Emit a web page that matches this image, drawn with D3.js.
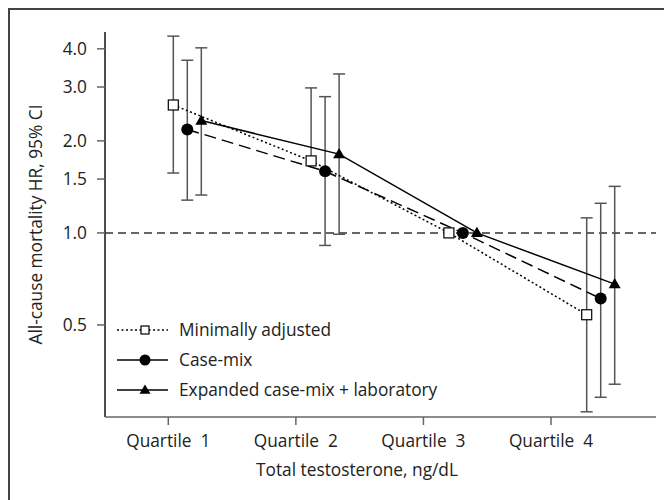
<!DOCTYPE html>
<html>
<head>
<meta charset="utf-8">
<script src="https://cdn.jsdelivr.net/npm/d3@7"></script>
<style>
  body { margin: 0; background: #fff; }
  svg { display: block; font-family: "Open Sans", "Noto Sans", sans-serif; }
</style>
</head>
<body>
<div id="chart"></div>
<script>
const categories = ["Quartile  1", "Quartile  2", "Quartile  3", "Quartile  4"]
const seriesNames = ["Minimally adjusted", "Case-mix", "Expanded case-mix + laboratory"]
const yTicks = [0.5, 1.0, 1.5, 2.0, 3.0, 4.0]

// hazard ratios with 95% CI (quartile 3 is the reference)
const minimalHR = [2.62, 1.72, 1.0, 0.54]
const minimalLo = [1.57, null, null, 0.26]
const minimalHi = [4.40, 2.98, null, 1.12]
const caseMixHR = [2.18, 1.59, 1.0, 0.61]
const caseMixLo = [1.28, 0.91, null, 0.29]
const caseMixHi = [3.67, 2.79, null, 1.25]
const expandedHR = [2.33, 1.81, 1.0, 0.68]
const expandedLo = [1.33, 0.99, null, 0.32]
const expandedHi = [4.03, 3.31, null, 1.42]

const series = [
    { name: seriesNames[0], hr: minimalHR, lo: minimalLo, hi: minimalHi, shape: "square", dash: "2,2.5" },
    { name: seriesNames[1], hr: caseMixHR, lo: caseMixLo, hi: caseMixHi, shape: "circle", dash: "12,6" },
    { name: seriesNames[2], hr: expandedHR, lo: expandedLo, hi: expandedHi, shape: "triangle", dash: null }
]

const svgWidth = 664, svgHeight = 500
const plotLeft = 105, plotRight = 656, plotTop = 32, plotBottom = 417
const fontSize = 17.3

const svg = d3.select("#chart").append("svg")
    .attr("width", svgWidth)
    .attr("height", svgHeight)

// outer frame (left and top edges only)
svg.append("path")
    .attr("d", "M9," + svgHeight + "V9H" + svgWidth)
    .attr("fill", "none")
    .attr("stroke", "#444")
    .attr("stroke-width", 2)

// scales
const y = d3.scaleLog().domain([0.25, 4.54]).range([plotBottom, plotTop])
const xTick = d3.scalePoint().domain(categories).range([168.3, 551])
const xGroup = d3.scaleLinear().domain([0, 3]).range([173.3, 586.7])
const xDodge = d3.scalePoint().domain(seriesNames).range([0, 28])
const px = (s, i) => xGroup(i) + xDodge(s.name)

// axes
svg.append("line")
    .attr("x1", plotLeft).attr("x2", plotLeft).attr("y1", plotTop).attr("y2", plotBottom)
    .attr("stroke", "#111").attr("stroke-width", 1.5)
svg.append("line")
    .attr("x1", plotLeft).attr("x2", plotRight).attr("y1", plotBottom).attr("y2", plotBottom)
    .attr("stroke", "#666").attr("stroke-width", 1.5)

const yAxis = svg.append("g")
yAxis.selectAll("line").data(yTicks).enter().append("line")
    .attr("x1", plotLeft - 8).attr("x2", plotLeft)
    .attr("y1", d => y(d)).attr("y2", d => y(d))
    .attr("stroke", "#666").attr("stroke-width", 1.5)
yAxis.selectAll("text").data(yTicks).enter().append("text")
    .attr("x", plotLeft - 18)
    .attr("y", d => y(d))
    .attr("dy", "0.35em")
    .attr("text-anchor", "end")
    .attr("font-size", fontSize)
    .attr("fill", "#222")
    .text(d => d3.format(".1f")(d))

const xAxis = svg.append("g")
xAxis.selectAll("line").data(categories).enter().append("line")
    .attr("x1", d => xTick(d)).attr("x2", d => xTick(d))
    .attr("y1", plotBottom).attr("y2", plotBottom + 8)
    .attr("stroke", "#666").attr("stroke-width", 1.5)
xAxis.selectAll("text").data(categories).enter().append("text")
    .attr("x", d => xTick(d))
    .attr("y", 447)
    .attr("text-anchor", "middle")
    .attr("font-size", fontSize)
    .attr("fill", "#222")
    .style("white-space", "pre")
    .text(d => d)

// axis titles
svg.append("text")
    .attr("transform", "translate(42," + (plotTop + plotBottom) / 2 + ") rotate(-90)")
    .attr("text-anchor", "middle")
    .attr("font-size", fontSize)
    .attr("fill", "#222")
    .text("All-cause mortality HR, 95% CI")
svg.append("text")
    .attr("x", 357)
    .attr("y", 476)
    .attr("text-anchor", "middle")
    .attr("font-size", fontSize)
    .attr("fill", "#222")
    .text("Total testosterone, ng/dL")

// reference line at HR = 1
svg.append("line")
    .attr("x1", plotLeft).attr("x2", plotRight)
    .attr("y1", y(1)).attr("y2", y(1))
    .attr("stroke", "#333").attr("stroke-width", 1.5)
    .attr("stroke-dasharray", "8,5")

// error bars
series.forEach(s => {
    const g = svg.append("g")
    s.hr.forEach((v, i) => {
        if (s.hi[i] === null) return
        const cx = px(s, i)
        const lo = s.lo[i] === null ? v : s.lo[i]
        g.append("line")
            .attr("x1", cx).attr("x2", cx)
            .attr("y1", y(s.hi[i])).attr("y2", y(lo))
            .attr("stroke", "#555").attr("stroke-width", 1.5)
        g.append("line")
            .attr("x1", cx - 6).attr("x2", cx + 6)
            .attr("y1", y(s.hi[i])).attr("y2", y(s.hi[i]))
            .attr("stroke", "#555").attr("stroke-width", 1.5)
        if (s.lo[i] !== null) {
            g.append("line")
                .attr("x1", cx - 6).attr("x2", cx + 6)
                .attr("y1", y(lo)).attr("y2", y(lo))
                .attr("stroke", "#555").attr("stroke-width", 1.5)
        }
    })
})

// connecting lines
const line = d3.line()
series.forEach(s => {
    svg.append("path")
        .datum(s.hr.map((v, i) => [px(s, i), y(v)]))
        .attr("d", line)
        .attr("fill", "none")
        .attr("stroke", "#000")
        .attr("stroke-width", 1.5)
        .attr("stroke-dasharray", s.dash)
})

// markers
const drawMarker = (g, shape, cx, cy, size) => {
    if (shape === "square") {
        g.append("rect")
            .attr("x", cx - size / 2).attr("y", cy - size / 2)
            .attr("width", size).attr("height", size)
            .attr("fill", "#fff").attr("stroke", "#000").attr("stroke-width", 1.2)
    } else if (shape === "circle") {
        g.append("circle")
            .attr("cx", cx).attr("cy", cy).attr("r", size / 2)
            .attr("fill", "#000")
    } else {
        const h = size * 0.85
        g.append("path")
            .attr("d", "M" + cx + "," + (cy - h * 0.6) + "L" + (cx + size / 2) + "," + (cy + h * 0.4) +
                "L" + (cx - size / 2) + "," + (cy + h * 0.4) + "Z")
            .attr("fill", "#000")
    }
}

series.forEach(s => {
    const g = svg.append("g")
    const size = s.shape === "square" ? 10 : 12
    s.hr.forEach((v, i) => drawMarker(g, s.shape, px(s, i), y(v), size))
})

// legend
const legendY = d3.scalePoint().domain(seriesNames).range([330, 390])
const legendDash = ["2,2.5", null, null]
seriesNames.forEach((name, i) => {
    const g = svg.append("g")
    const ly = legendY(name)
    g.append("line")
        .attr("x1", 117).attr("x2", 168)
        .attr("y1", ly).attr("y2", ly)
        .attr("stroke", "#000").attr("stroke-width", 1.5)
        .attr("stroke-dasharray", legendDash[i])
    drawMarker(g, series[i].shape, 145, ly, series[i].shape === "square" ? 8 : 11)
    g.append("text")
        .attr("x", 179)
        .attr("y", ly)
        .attr("dy", "0.35em")
        .attr("font-size", fontSize)
        .attr("fill", "#222")
        .text(name)
})
</script>
</body>
</html>
